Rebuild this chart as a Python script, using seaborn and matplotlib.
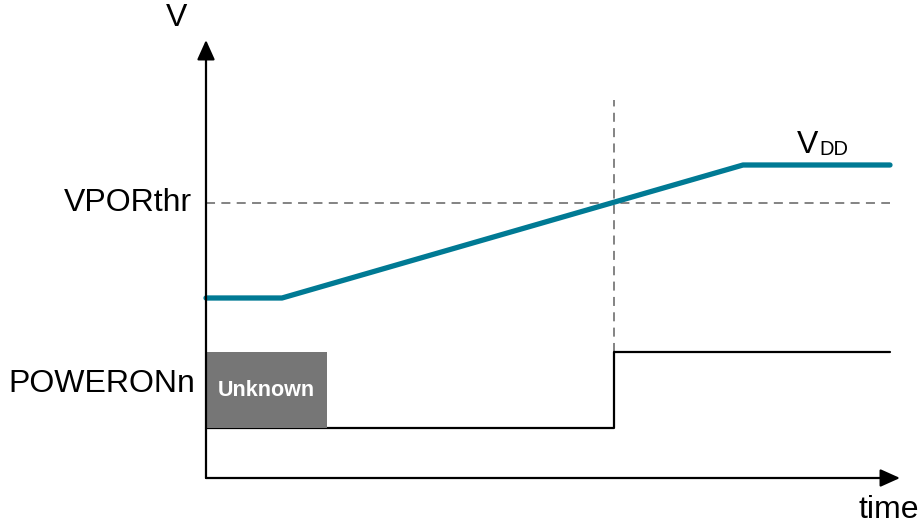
import matplotlib
matplotlib.use("Agg")
import matplotlib.pyplot as plt
import seaborn as sns
import pandas as pd
from matplotlib.patches import Rectangle

sns.set_theme(style="white")
plt.rcParams['font.family'] = ['Liberation Sans', 'DejaVu Sans']

# ---- data (time units / voltage units, origin at axes corner) ----
vdd_time = [0, 76, 537, 684]
vdd_volt = [180, 180, 313, 313]
por_time = [0, 408, 408, 684]
por_level = [50, 50, 126, 126]
vporthr = 275
threshold_time = 408
unknown_span = [0, 121]
unknown_levels = [50, 126]
labels = {"v": "V", "thr": "VPORthr", "por": "POWERONn", "time": "time"}

fig = plt.figure(figsize=(9.21, 5.27), dpi=100)
ax = fig.add_axes([0, 0, 1, 1])
ax.set_xlim(-206, 715)
ax.set_ylim(-49, 478)
ax.axis("off")

# dashed guides
ax.plot([0, 684], [vporthr, vporthr], ls=(0, (5, 3.5)), color="#7a7a7a", lw=1.3, zorder=1)
ax.plot([threshold_time, threshold_time], [126, 378], ls=(0, (5, 3.5)), color="#7a7a7a", lw=1.3, zorder=1)

# signals
df_vdd = pd.DataFrame({"t": vdd_time, "v": vdd_volt})
sns.lineplot(data=df_vdd, x="t", y="v", ax=ax, sort=False, estimator=None,
             color="#007a94", lw=3.8, solid_capstyle="round", zorder=3)
df_por = pd.DataFrame({"t": por_time, "v": por_level})
sns.lineplot(data=df_por, x="t", y="v", ax=ax, sort=False, estimator=None,
             color="black", lw=1.6, zorder=3)

# unknown box
ax.add_patch(Rectangle((unknown_span[0], unknown_levels[0]),
                       unknown_span[1] - unknown_span[0],
                       unknown_levels[1] - unknown_levels[0],
                       facecolor="#767676", edgecolor="none", zorder=4))
ax.text((unknown_span[0] + unknown_span[1]) / 2, (unknown_levels[0] + unknown_levels[1]) / 2 - 1,
        "Unknown", color="white", fontsize=15.5, fontweight="bold", ha="center", va="center", zorder=5)

# axes arrows
ax.annotate("", xy=(0, 438), xytext=(0, 0),
            arrowprops=dict(arrowstyle="-|>,head_length=1.0,head_width=0.45", color="black", lw=1.6,
                            shrinkA=0, shrinkB=0), zorder=6)
ax.annotate("", xy=(694, 0), xytext=(0, 0),
            arrowprops=dict(arrowstyle="-|>,head_length=1.0,head_width=0.45", color="black", lw=1.6,
                            shrinkA=0, shrinkB=0), zorder=6)

# labels
fs = 23
ax.text(-29, 460, labels["v"], fontsize=fs, ha="center", va="center", color="black")
ax.text(-14, vporthr, labels["thr"], fontsize=fs, ha="right", va="center", color="black")
ax.text(-11, 94, labels["por"], fontsize=fs, ha="right", va="center", color="black")
ax.text(683, -32, labels["time"], fontsize=fs, ha="center", va="center", color="black")
ax.text(591, 325, "V", fontsize=fs, ha="left", va="baseline", color="black")
ax.text(613, 323, "DD", fontsize=14.5, ha="left", va="baseline", color="black")

fig.savefig("out.png", dpi=100)
